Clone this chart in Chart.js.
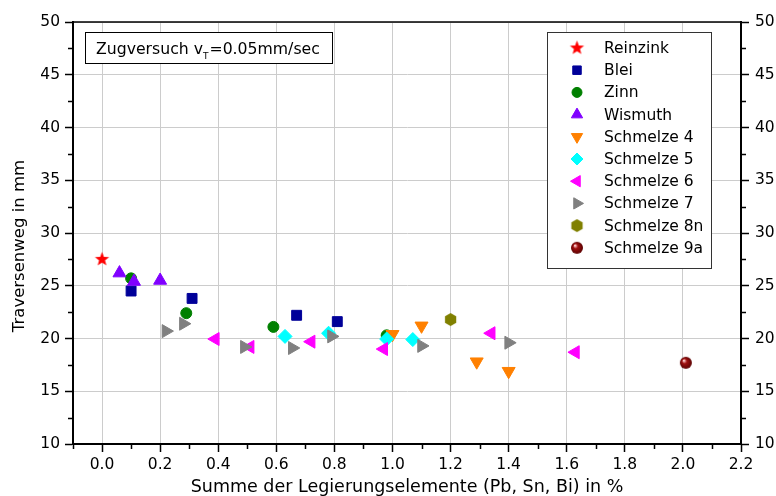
<!DOCTYPE html>
<html>
<head>
<meta charset="utf-8">
<script src="https://cdn.jsdelivr.net/npm/chart.js@4.4.1/dist/chart.umd.min.js"></script>
<style>
  html, body { margin: 0; padding: 0; background: #fff; }
  #wrap { width: 776px; height: 496px; }
</style>
</head>
<body>
<div id="wrap"><canvas id="c"></canvas></div>
<script>
// data
const reinzinkX = [0.0];
const reinzinkY = [27.5];
const bleiX = [0.10, 0.31, 0.67, 0.81];
const bleiY = [24.5, 23.8, 22.2, 21.6];
const zinnX = [0.10, 0.29, 0.59, 0.98];
const zinnY = [25.7, 22.4, 21.1, 20.3];
const wismuthX = [0.06, 0.11, 0.20];
const wismuthY = [26.2, 25.4, 25.5];
const s4X = [1.00, 1.10, 1.29, 1.40];
const s4Y = [20.4, 21.2, 17.8, 16.9];
const s5X = [0.63, 0.78, 0.98, 1.07];
const s5Y = [20.2, 20.5, 19.95, 19.9];
const s6X = [0.39, 0.51, 0.72, 0.97, 1.34, 1.63];
const s6Y = [19.95, 19.2, 19.7, 19.0, 20.5, 18.7];
const s7X = [0.22, 0.28, 0.49, 0.655, 0.79, 1.10, 1.40];
const s7Y = [20.7, 21.4, 19.2, 19.1, 20.2, 19.3, 19.6];
const s8nX = [1.20];
const s8nY = [21.8];
const s9aX = [2.01];
const s9aY = [17.7];

const xMajorTicks = [0.0, 0.2, 0.4, 0.6, 0.8, 1.0, 1.2, 1.4, 1.6, 1.8, 2.0, 2.2];
const xMinorTicks = [-0.1, 0.1, 0.3, 0.5, 0.7, 0.9, 1.1, 1.3, 1.5, 1.7, 1.9, 2.1];
const yMajorTicks = [10, 15, 20, 25, 30, 35, 40, 45, 50];
const yMinorTicks = [12.5, 17.5, 22.5, 27.5, 32.5, 37.5, 42.5, 47.5];

const axisFont = "'DejaVu Sans', sans-serif";
const legendFont = "'DejaVu Sans', sans-serif";

function pts(xs, ys) {
  return xs.map((x, i) => ({ x: x, y: ys[i] }));
}

function makeStar(color, r) {
  const c = document.createElement("canvas");
  const s = Math.ceil(r * 2 + 2);
  c.width = s; c.height = s;
  const g = c.getContext("2d");
  g.fillStyle = color;
  g.beginPath();
  for (let i = 0; i < 10; i++) {
    const a = -Math.PI / 2 + i * Math.PI / 5;
    const rr = i % 2 ? r * 0.42 : r;
    g.lineTo(s / 2 + rr * Math.cos(a), s / 2 + rr * Math.sin(a));
  }
  g.closePath();
  g.fill();
  return c;
}

function makeHex(color, r) {
  const c = document.createElement("canvas");
  const s = Math.ceil(r * 2 + 2);
  c.width = s; c.height = s;
  const g = c.getContext("2d");
  g.fillStyle = color;
  g.beginPath();
  for (let i = 0; i < 6; i++) {
    const a = -Math.PI / 2 + i * Math.PI / 3;
    g.lineTo(s / 2 + r * Math.cos(a), s / 2 + r * Math.sin(a));
  }
  g.closePath();
  g.fill();
  return c;
}

function makeSphere(r) {
  const c = document.createElement("canvas");
  const s = Math.ceil(r * 2 + 2);
  c.width = s; c.height = s;
  const g = c.getContext("2d");
  const grad = g.createRadialGradient(s / 2 - r * 0.35, s / 2 - r * 0.4, 0.5, s / 2, s / 2, r);
  grad.addColorStop(0, "#ffd0d0");
  grad.addColorStop(0.35, "#a01010");
  grad.addColorStop(1, "#5a0000");
  g.fillStyle = grad;
  g.beginPath();
  g.arc(s / 2, s / 2, r, 0, Math.PI * 2);
  g.fill();
  return c;
}

const series = [
  { label: "Reinzink", xs: reinzinkX, ys: reinzinkY, color: "#ff0000", style: makeStar("#ff0000", 7.5), radius: 7, rotation: 0 },
  { label: "Blei", xs: bleiX, ys: bleiY, color: "#000099", style: "rect", radius: 7, rotation: 0 },
  { label: "Zinn", xs: zinnX, ys: zinnY, color: "#008000", style: "circle", radius: 5.5, rotation: 0 },
  { label: "Wismuth", xs: wismuthX, ys: wismuthY, color: "#8000ff", style: "triangle", radius: 7.5, rotation: 0 },
  { label: "Schmelze 4", xs: s4X, ys: s4Y, color: "#ff8000", style: "triangle", radius: 7.5, rotation: 180 },
  { label: "Schmelze 5", xs: s5X, ys: s5Y, color: "#00ffff", style: "rectRot", radius: 7, rotation: 0 },
  { label: "Schmelze 6", xs: s6X, ys: s6Y, color: "#ff00ff", style: "triangle", radius: 7.5, rotation: 270 },
  { label: "Schmelze 7", xs: s7X, ys: s7Y, color: "#808080", style: "triangle", radius: 7.5, rotation: 90 },
  { label: "Schmelze 8n", xs: s8nX, ys: s8nY, color: "#808000", style: makeHex("#808000", 6.5), radius: 6, rotation: 0 },
  { label: "Schmelze 9a", xs: s9aX, ys: s9aY, color: "#800000", style: makeSphere(6), radius: 6, rotation: 0 },
];

const datasets = series.map((s, i) => ({
  label: s.label,
  data: pts(s.xs, s.ys),
  pointStyle: s.style,
  pointRadius: s.radius,
  pointRotation: s.rotation,
  backgroundColor: s.color,
  borderColor: s.color,
  borderWidth: 1,
  showLine: false,
  order: series.length - i,
}));

const decorations = {
  id: "decorations",
  afterDraw(chart) {
    const ctx = chart.ctx;
    const a = chart.chartArea;
    const xs = chart.scales.x;
    const ys = chart.scales.y;
    ctx.save();

    // top frame line
    ctx.strokeStyle = "#000";
    ctx.lineWidth = 1.5;
    ctx.beginPath();
    ctx.moveTo(a.left, a.top);
    ctx.lineTo(a.right, a.top);
    ctx.stroke();

    // minor ticks
    ctx.lineWidth = 1.5;
    ctx.beginPath();
    xMinorTicks.forEach((v) => {
      const px = Math.round(xs.getPixelForValue(v)) + 0.5;
      ctx.moveTo(px, a.bottom);
      ctx.lineTo(px, a.bottom + 5);
    });
    yMinorTicks.forEach((v) => {
      const py = Math.round(ys.getPixelForValue(v)) + 0.5;
      ctx.moveTo(a.left, py);
      ctx.lineTo(a.left - 5, py);
      ctx.moveTo(a.right, py);
      ctx.lineTo(a.right + 5, py);
    });
    ctx.stroke();

    // y axis title (sits a little below the middle in the original)
    ctx.save();
    ctx.translate(20, 246);
    ctx.rotate(-Math.PI / 2);
    ctx.fillStyle = "#000";
    ctx.font = "16.5px " + axisFont;
    ctx.textAlign = "center";
    ctx.textBaseline = "middle";
    ctx.fillText("Traversenweg in mm", 0, 0);
    ctx.restore();

    // text box
    ctx.fillStyle = "#fff";
    ctx.fillRect(85.5, 32.5, 247, 31);
    ctx.lineWidth = 1;
    ctx.strokeStyle = "#000";
    ctx.strokeRect(85.5, 32.5, 247, 31);
    ctx.fillStyle = "#000";
    ctx.textBaseline = "alphabetic";
    ctx.textAlign = "left";
    ctx.font = "15.7px " + legendFont;
    let tx = 96;
    const ty = 54;
    const part1 = "Zugversuch v";
    ctx.fillText(part1, tx, ty);
    tx += ctx.measureText(part1).width;
    ctx.font = "9px " + legendFont;
    ctx.fillText("T", tx, ty + 5);
    tx += ctx.measureText("T").width + 1;
    ctx.font = "15.7px " + legendFont;
    ctx.fillText("=0.05mm/sec", tx, ty);

    // legend box
    const lx = 547.5, ly = 32.5, lw = 164, lh = 236;
    ctx.fillStyle = "#fff";
    ctx.fillRect(lx, ly, lw, lh);
    ctx.strokeStyle = "#333";
    ctx.lineWidth = 1;
    ctx.strokeRect(lx, ly, lw, lh);
    ctx.font = "15.5px " + legendFont;
    ctx.textBaseline = "middle";
    chart.data.datasets.forEach((ds, i) => {
      const y = 48 + i * 22.2;
      ctx.fillStyle = ds.backgroundColor;
      ctx.strokeStyle = ds.borderColor;
      ctx.lineWidth = 1;
      let r = ds.pointRadius;
      if (ds.pointStyle === "rect") r = 6;
      if (ds.pointStyle === "triangle") r = 6.5;
      if (ds.pointStyle === "rectRot") r = 6;
      if (ds.pointStyle === "circle") r = 5;
      Chart.helpers.drawPoint(ctx, {
        pointStyle: ds.pointStyle,
        rotation: ds.pointRotation,
        radius: r,
        borderWidth: 1,
      }, 577, y);
      ctx.fillStyle = "#000";
      ctx.fillText(ds.label, 604, y + 1);
    });
    ctx.restore();
  },
};

new Chart(document.getElementById("c"), {
  type: "scatter",
  data: { datasets: datasets },
  options: {
    responsive: true,
    maintainAspectRatio: false,
    animation: false,
    layout: { padding: { top: 22, left: 0, right: 0, bottom: 0 } },
    plugins: {
      legend: { display: false },
      tooltip: { enabled: false },
    },
    scales: {
      x: {
        type: "linear",
        position: "bottom",
        min: -0.1,
        max: 2.2,
        afterBuildTicks: (s) => { s.ticks = xMajorTicks.map((v) => ({ value: v })); },
        afterFit: (s) => { s.height = 52; },
        ticks: {
          font: { family: axisFont, size: 15.5 },
          color: "#000",
          padding: 4,
          maxRotation: 0,
          autoSkip: false,
          callback: (v) => Number(v).toFixed(1),
        },
        grid: {
          color: "#cccccc",
          lineWidth: 1,
          tickColor: "#000",
          tickLength: 8,
          tickWidth: 1.5,
        },
        border: { color: "#000", width: 2 },
        title: {
          display: true,
          text: "Summe der Legierungselemente (Pb, Sn, Bi) in %",
          font: { family: axisFont, size: 17.5 },
          color: "#000",
          padding: { top: 0, bottom: -2 },
        },
      },
      y: {
        type: "linear",
        position: "left",
        min: 10,
        max: 50,
        afterBuildTicks: (s) => { s.ticks = yMajorTicks.map((v) => ({ value: v })); },
        afterFit: (s) => { s.width = 73; },
        ticks: {
          font: { family: axisFont, size: 15.5 },
          color: "#000",
          padding: 5,
        },
        grid: {
          color: "#cccccc",
          lineWidth: 1,
          tickColor: "#000",
          tickLength: 8,
          tickWidth: 1.5,
        },
        border: { color: "#000", width: 2 },
      },
      y2: {
        type: "linear",
        position: "right",
        min: 10,
        max: 50,
        afterBuildTicks: (s) => { s.ticks = yMajorTicks.map((v) => ({ value: v })); },
        afterFit: (s) => { s.width = 35; },
        ticks: {
          font: { family: axisFont, size: 15.5 },
          color: "#000",
          padding: 6,
        },
        grid: {
          drawOnChartArea: false,
          tickColor: "#000",
          tickLength: 8,
          tickWidth: 1.5,
        },
        border: { color: "#000", width: 2 },
      },
    },
  },
  plugins: [decorations],
});
</script>
</body>
</html>
